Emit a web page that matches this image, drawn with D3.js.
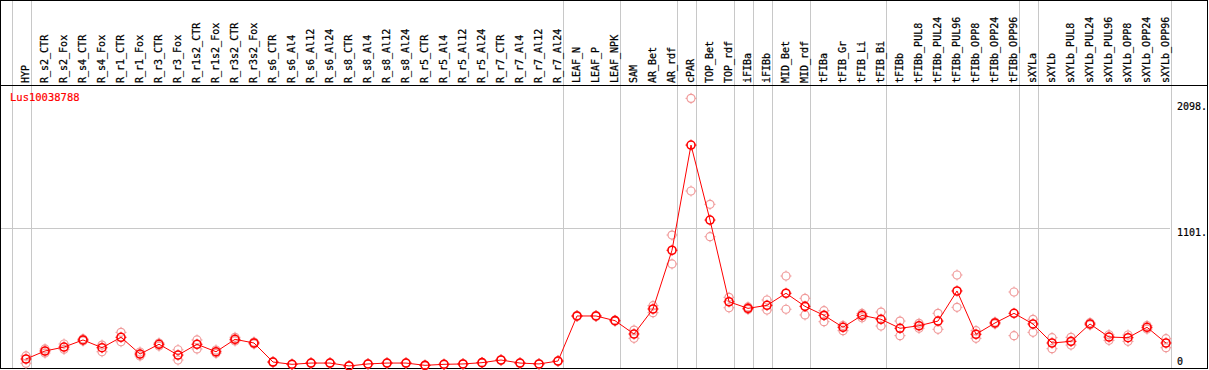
<!DOCTYPE html>
<html><head><meta charset="utf-8">
<script src="https://cdn.jsdelivr.net/npm/d3@7"></script>
<style>
html,body{margin:0;padding:0;background:#fff;}
svg{display:block;}
text{font-family:"DejaVu Sans Mono",monospace;}
</style></head>
<body>
<script>
const categories = ["HYP","R_s2_CTR","R_s2_Fox","R_s4_CTR","R_s4_Fox","R_r1_CTR","R_r1_Fox","R_r3_CTR","R_r3_Fox","R_r1s2_CTR","R_r1s2_Fox","R_r3s2_CTR","R_r3s2_Fox","R_s6_CTR","R_s6_Al4","R_s6_Al12","R_s6_Al24","R_s8_CTR","R_s8_Al4","R_s8_Al12","R_s8_Al24","R_r5_CTR","R_r5_Al4","R_r5_Al12","R_r5_Al24","R_r7_CTR","R_r7_Al4","R_r7_Al12","R_r7_Al24","LEAF_N","LEAF_P","LEAF_NPK","SAM","AR_Bet","AR_rdf","cPAR","TOP_Bet","TOP_rdf","iFIBa","iFIBb","MID_Bet","MID_rdf","tFIBa","tFIB_Gr","tFIB_Li","tFIB_Bi","tFIBb","tFIBb_PUL8","tFIBb_PUL24","tFIBb_PUL96","tFIBb_OPP8","tFIBb_OPP24","tFIBb_OPP96","sXYLa","sXYLb","sXYLb_PUL8","sXYLb_PUL24","sXYLb_PUL96","sXYLb_OPP8","sXYLb_OPP24","sXYLb_OPP96"];
const meanValues = [71,134,165,221,160,242,110,187,102,187,128,226,197,47,29,39,39,16,32,39,39,21,29,32,42,63,39,32,55,410,410,373,268,465,928,1757,1166,522,470,494,589,486,415,321,415,384,313,333,370,607,266,355,431,347,197,210,347,244,239,321,197];
const repHigh = [95,150,189,229,181,281,126,197,144,221,142,242,205,50,31,41,41,18,34,41,41,23,31,34,44,65,41,34,57,414,414,377,299,491,1048,2125,1290,557,481,536,725,549,452,335,430,441,370,352,431,733,294,362,599,384,239,242,357,262,260,335,231];
const repLow = [37,118,147,213,128,207,95,173,63,150,116,213,189,44,27,37,37,14,30,37,37,19,27,30,40,61,37,30,53,406,406,369,234,436,820,1395,1035,475,461,457,463,418,365,294,396,331,255,313,305,478,234,347,255,281,152,181,339,218,210,307,160];
const groupEnds = ["HYP","R_r7_Al24","LEAF_NPK","AR_rdf","cPAR","TOP_rdf","iFIBa","iFIBb","MID_rdf","tFIB_Bi","tFIBb_OPP96","sXYLa","sXYLb_OPP96"];
const yTicks = [0, 1101, 2098];
const yTickLabels = ["0", "1101.", "2098."];
const geneName = "Lus10038788";

const W = 1209, H = 370;
const svg = d3.select("body").append("svg").attr("width", W).attr("height", H);

const x = d3.scalePoint().domain(categories).range([26, 1166]);
const y = d3.scaleLinear().domain([0, 2098]).range([368, 101.8]);
const step = x.step();

// gridlines
const grid = svg.append("g").attr("stroke", "#c8c8c8").attr("stroke-width", 1);
grid.append("line").attr("x1", 11.5).attr("x2", 11.5).attr("y1", 0).attr("y2", 368)
  .attr("transform", `translate(${Math.round(x(categories[0]) - step + 4.5) - 11},0)`);
groupEnds.forEach(c => {
  const gx = Math.round(x(c) + 4.5) + 0.5;
  grid.append("line").attr("x1", gx).attr("x2", gx).attr("y1", 0).attr("y2", 368);
});
grid.append("line").attr("x1", 1).attr("x2", 1170).attr("y1", Math.round(y(1101)) + 0.5).attr("y2", Math.round(y(1101)) + 0.5);

// frame
const frame = svg.append("g").attr("stroke", "#000").attr("fill", "none");
frame.append("rect").attr("x", 0.5).attr("y", 0.5).attr("width", 1207).attr("height", 368);
frame.append("line").attr("x1", 0).attr("x2", 1208).attr("y1", 85.5).attr("y2", 85.5);
frame.append("line").attr("x1", 0).attr("x2", 1208).attr("y1", 368.5).attr("y2", 368.5);

// category labels
svg.append("g").selectAll("text").data(categories).join("text")
  .attr("transform", d => `translate(${x(d) + 2.5},83) rotate(-90)`)
  .attr("font-size", "10px").attr("fill", "#000")
  .attr("stroke", "#000").attr("stroke-width", 0.25)
  .text(d => d);

// y tick labels
svg.append("g").selectAll("text").data(yTicks).join("text")
  .attr("x", 1177)
  .attr("y", (d, i) => i === 0 ? y(d) - 3 : y(d) + 8)
  .attr("font-size", "10px").attr("fill", "#000")
  .attr("stroke", "#000").attr("stroke-width", 0.2)
  .text((d, i) => yTickLabels[i]);

// gene label
svg.append("text").attr("x", 10).attr("y", 101).attr("font-size", "10.5px").attr("fill", "#ff0000")
  .attr("stroke", "#ff0000").attr("stroke-width", 0.2).text(geneName);

function marker(g, cx, cy, color, sw) {
  g.append("circle").attr("cx", cx).attr("cy", cy).attr("r", 4).attr("fill", "none").attr("stroke", color).attr("stroke-width", sw);
  const t = [[0,-4,0,-5.5],[0,4,0,5.5],[-4,0,-5.5,0],[4,0,5.5,0]];
  t.forEach(a => g.append("line").attr("x1", cx + a[0]).attr("y1", cy + a[1]).attr("x2", cx + a[2]).attr("y2", cy + a[3]).attr("stroke", color).attr("stroke-width", 1));
}

// replicates
const reps = svg.append("g");
categories.forEach((c, i) => {
  marker(reps, x(c), y(repHigh[i]), "#f09a9a", 1.2);
  marker(reps, x(c), y(repLow[i]), "#f09a9a", 1.2);
});

// mean line
svg.append("path").datum(meanValues)
  .attr("d", d3.line().x((d, i) => x(categories[i])).y(d => y(d)))
  .attr("fill", "none").attr("stroke", "#ff0000").attr("stroke-width", 1);

const means = svg.append("g");
categories.forEach((c, i) => marker(means, x(c), y(meanValues[i]), "#ff0000", 1.6));
</script>
</body></html>
